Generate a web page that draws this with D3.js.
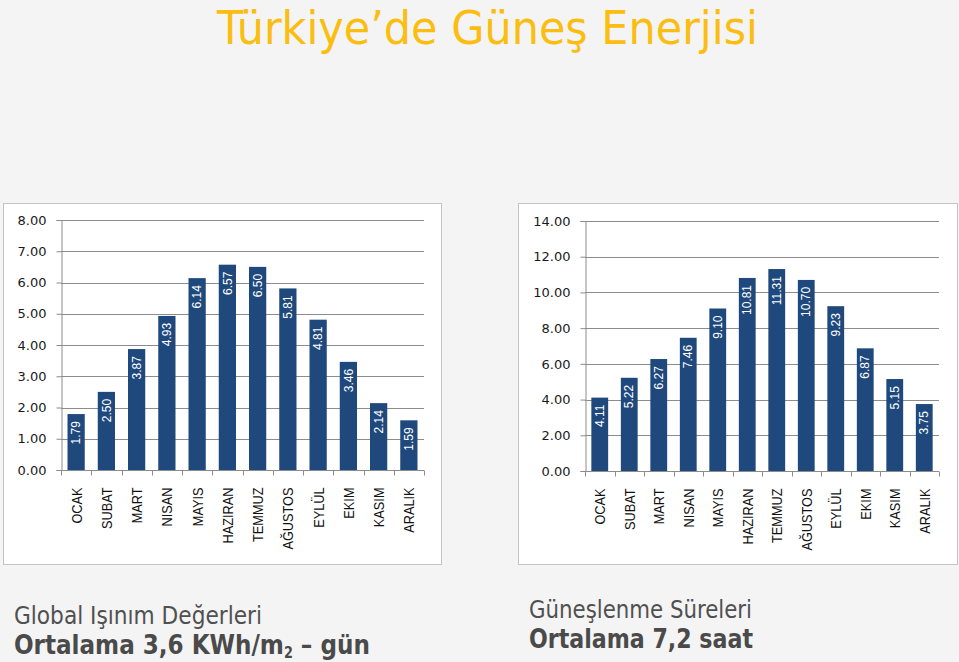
<!DOCTYPE html>
<html>
<head>
<meta charset="utf-8">
<script src="https://cdn.jsdelivr.net/npm/d3@7"></script>
<style>
  html, body { margin: 0; padding: 0; background: #f4f4f4; }
  svg { display: block; }
</style>
</head>
<body>
<svg id="chart" width="959" height="662"></svg>
<script>
const months = ["OCAK","SUBAT","MART","NISAN","MAYIS","HAZIRAN","TEMMUZ","AĞUSTOS","EYLÜL","EKIM","KASIM","ARALIK"];
const radiation = [1.79,2.50,3.87,4.93,6.14,6.57,6.50,5.81,4.81,3.46,2.14,1.59];
const sunshine = [4.11,5.22,6.27,7.46,9.10,10.81,11.31,10.70,9.23,6.87,5.15,3.75];
const radiationTicks = [0,1,2,3,4,5,6,7,8];
const sunshineTicks = [0,2,4,6,8,10,12,14];

const title = "Türkiye’de Güneş Enerjisi";
const leftCaption = "Global Işınım Değerleri";
const leftSummaryParts = ["Ortalama 3,6 KWh/m", "2", " – gün"];
const rightCaption = "Güneşlenme Süreleri";
const rightSummary = "Ortalama 7,2 saat";

const svg = d3.select("#chart");
const BAR = "#1f497d";
const GRID = "#8c8c8c";
const fmt = d3.format(".2f");
const capFont = "'DejaVu Sans Condensed', 'DejaVu Sans', Verdana, sans-serif";

// Title
svg.append("text")
  .attr("x", 217).attr("y", 44)
  .attr("textLength", 541).attr("lengthAdjust", "spacingAndGlyphs")
  .style("font-family", capFont)
  .style("font-stretch", "condensed")
  .style("font-size", "47px")
  .style("fill", "#fbbd10")
  .text(title);

function drawChart(opt) {
  const g = svg.append("g");
  g.append("rect")
    .attr("x", opt.panel[0] + 0.5).attr("y", opt.panel[1] + 0.5)
    .attr("width", opt.panel[2]).attr("height", opt.panel[3])
    .attr("fill", "#ffffff").attr("stroke", "#c4c4c4");

  const x = d3.scaleBand().domain(months).range([opt.x0, opt.x1]).paddingInner(0.43).paddingOuter(0.215);
  const y = d3.scaleLinear().domain([0, opt.max]).range([opt.y0, opt.y1]);

  g.append("g").selectAll("line").data(opt.ticks.filter(t => t > 0)).join("line")
    .attr("x1", opt.x0).attr("x2", opt.x1)
    .attr("y1", d => Math.round(y(d)) + 0.5).attr("y2", d => Math.round(y(d)) + 0.5)
    .attr("stroke", GRID).attr("stroke-width", 1);

  const yAxis = g.append("g")
    .attr("transform", `translate(${opt.x0 + 0.5},0)`)
    .call(d3.axisLeft(y).tickValues(opt.ticks).tickFormat(fmt).tickSize(5).tickPadding(10));
  yAxis.select(".domain").attr("stroke", GRID);
  yAxis.selectAll(".tick line").attr("stroke", GRID);
  yAxis.selectAll(".tick text")
    .style("font-family", "DejaVu Sans, Verdana, sans-serif")
    .style("font-size", "13px").style("fill", "#1a1a1a");

  g.append("g").selectAll("rect").data(opt.values).join("rect")
    .attr("x", (d, i) => x(months[i]))
    .attr("y", d => y(d))
    .attr("width", x.bandwidth())
    .attr("height", d => y(0) - y(d))
    .attr("fill", BAR);

  g.append("g").selectAll("text").data(opt.values).join("text")
    .attr("transform", (d, i) => `translate(${x(months[i]) + x.bandwidth() / 2},${y(d) + 7}) rotate(-90)`)
    .attr("text-anchor", "end")
    .attr("dy", "0.35em")
    .style("font-family", "Liberation Sans, Arial, sans-serif")
    .style("font-size", "12px")
    .style("fill", "#ffffff")
    .text(d => fmt(d));

  const xAxis = g.append("g").attr("transform", `translate(0,${opt.y0 + 0.5})`);
  xAxis.append("line").attr("x1", opt.x0).attr("x2", opt.x1).attr("stroke", GRID);
  const bounds = d3.range(months.length + 1).map(i => opt.x0 + (opt.x1 - opt.x0) * i / months.length);
  xAxis.selectAll("line.tk").data(bounds).join("line").attr("class", "tk")
    .attr("x1", d => Math.round(d) + 0.5).attr("x2", d => Math.round(d) + 0.5)
    .attr("y1", 0).attr("y2", 5).attr("stroke", GRID);
  xAxis.selectAll("text").data(months).join("text")
    .attr("transform", d => `translate(${x(d) + x.bandwidth() / 2},17) rotate(-90) scale(0.85,1)`)
    .attr("text-anchor", "end")
    .attr("dy", "0.36em")
    .style("font-family", "Liberation Sans, Arial, sans-serif")
    .style("font-size", "15px")
    .style("fill", "#111")
    .text(d => d);
}

drawChart({ panel: [3, 203, 438, 361], x0: 61, x1: 424, y0: 470, y1: 220, max: 8, ticks: radiationTicks, values: radiation });
drawChart({ panel: [518, 203, 439, 361], x0: 585, x1: 939, y0: 471, y1: 221, max: 14, ticks: sunshineTicks, values: sunshine });

// Captions
function caption(txt, x, y, len, size, bold) {
  return svg.append("text").attr("x", x).attr("y", y)
    .attr("textLength", len).attr("lengthAdjust", "spacingAndGlyphs")
    .style("font-family", capFont).style("font-stretch", "condensed")
    .style("font-size", size + "px")
    .style("font-weight", bold ? "bold" : "normal")
    .style("fill", bold ? "#4a4a4a" : "#505050")
    .text(txt);
}
caption(leftCaption, 14, 624, 248, 24, false);

// Left summary with subscript: one text element, scaled horizontally to fit
const ls = svg.append("text").attr("x", 14).attr("y", 654)
  .style("font-family", capFont).style("font-stretch", "condensed")
  .style("font-size", "27px").style("font-weight", "bold").style("fill", "#4a4a4a");
ls.append("tspan").text(leftSummaryParts[0]);
ls.append("tspan").attr("dy", 4).style("font-size", "15px").text(leftSummaryParts[1]);
ls.append("tspan").attr("dy", -4).text(leftSummaryParts[2]);
(function () {
  const w = ls.node().getComputedTextLength();
  const k = 356 / w;
  ls.attr("transform", `translate(14,0) scale(${k},1) translate(-14,0)`);
})();

caption(rightCaption, 529, 618, 223, 24, false);
caption(rightSummary, 529, 648, 224, 27, true);
</script>
</body>
</html>
